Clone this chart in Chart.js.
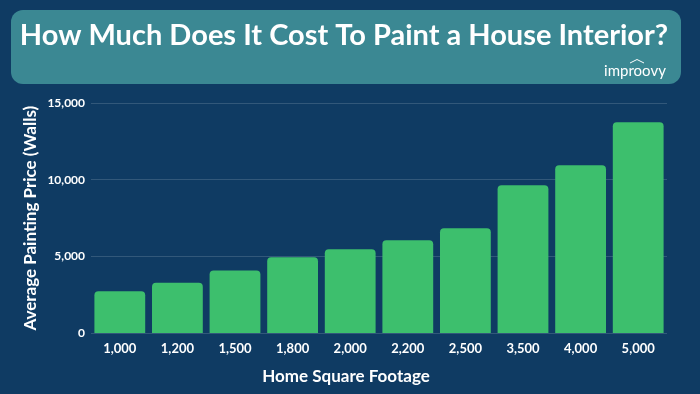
<!DOCTYPE html>
<html>
<head>
<meta charset="utf-8">
<script src="https://cdn.jsdelivr.net/npm/chart.js@4"></script>
<style>
  html, body { margin: 0; padding: 0; background: #0f3b63; }
  #wrap { width: 700px; height: 394px; position: relative; }
</style>
</head>
<body>
<div id="wrap"><canvas id="grafico" width="700" height="394"></canvas></div>
<script>
// Dados do gráfico
const categorias = ["1,000", "1,200", "1,500", "1,800", "2,000", "2,200", "2,500", "3,500", "4,000", "5,000"];
const precos = [2750, 3300, 4100, 4950, 5480, 6070, 6850, 9650, 10950, 13750];
const titulo = "How Much Does It Cost To Paint a House Interior?";
const tituloX = "Home Square Footage";
const marca = "improovy";

// Caixa do título e legenda do eixo X desenhadas à mão
const caixaTitulo = {
  id: "caixaTitulo",
  beforeDraw(chart) {
    const ctx = chart.ctx;
    ctx.save();
    ctx.fillStyle = "#3b8893";
    ctx.beginPath();
    ctx.roundRect(11, 10, 670, 74, 12);
    ctx.fill();
    ctx.fillStyle = "#ffffff";
    ctx.textAlign = "center";
    ctx.textBaseline = "middle";
    ctx.font = "bold 29px Lato";
    ctx.fillText(titulo, 344, 36);
    ctx.font = "15px Lato";
    ctx.fillText(marca, 635, 71);
    // telhadinho do logo
    ctx.strokeStyle = "#ffffff";
    ctx.lineWidth = 1;
    ctx.beginPath();
    ctx.moveTo(630, 63);
    ctx.lineTo(637, 59.5);
    ctx.lineTo(644, 63);
    ctx.stroke();
    ctx.font = "bold 17px Lato";
    ctx.fillText(tituloX, 346, 377);
    ctx.restore();
  },
};

const grafico = new Chart(document.getElementById("grafico"), {
  type: "bar",
  data: {
    labels: categorias,
    datasets: [
      {
        label: "preco",
        data: precos,
        backgroundColor: "#3dbf6d",
        borderRadius: 4,
        barPercentage: 0.9,
        categoryPercentage: 0.98,
      },
    ],
  },
  options: {
    responsive: false,
    animation: false,
    layout: { padding: { top: 103, right: 33, left: 16, bottom: 29 } },
    plugins: { legend: { display: false }, tooltip: { enabled: false } },
    scales: {
      x: {
        grid: { display: false, drawTicks: false },
        border: { display: false },
        ticks: { color: "#ffffff", font: { family: "Lato", weight: "bold", size: 13 }, padding: 8 },
      },
      y: {
        min: 0,
        max: 15000,
        ticks: {
          stepSize: 5000,
          color: "#ffffff",
          font: { family: "Lato", weight: "bold", size: 12 },
          padding: 6,
        },
        grid: { color: "rgba(255,255,255,0.15)", drawTicks: false },
        border: { display: false },
        title: {
          display: true,
          text: "Average Painting Price (Walls)",
          color: "#ffffff",
          font: { family: "Lato", weight: "bold", size: 17 },
          padding: { top: 4, bottom: 1 },
        },
      },
    },
  },
  plugins: [caixaTitulo],
});
</script>
</body>
</html>
